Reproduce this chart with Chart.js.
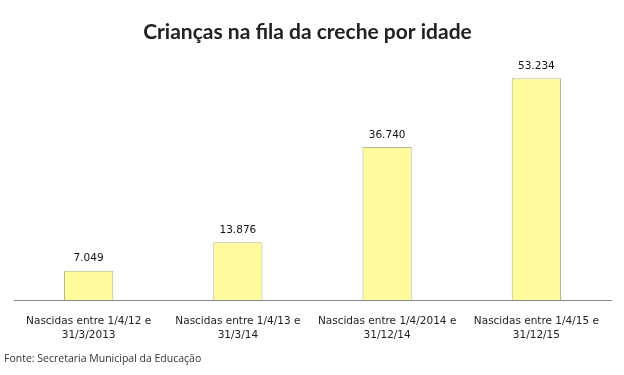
<!DOCTYPE html>
<html>
<head>
<meta charset="utf-8">
<script src="https://cdn.jsdelivr.net/npm/chart.js@4"></script>
<style>
  html, body { margin: 0; padding: 0; background: #fff; }
  #wrap { width: 624px; height: 375px; }
</style>
</head>
<body>
<div id="wrap"><canvas id="barChart" width="624" height="375"></canvas></div>
<script>
// dados do gráfico
const categorias = [
    ['Nascidas entre 1/4/12 e', '31/3/2013'],
    ['Nascidas entre 1/4/13 e', '31/3/14'],
    ['Nascidas entre 1/4/2014 e', '31/12/14'],
    ['Nascidas entre 1/4/15 e', '31/12/15']
];
const criancas = [7049, 13876, 36740, 53234];
const titulo = 'Crianças na fila da creche por idade';
const fonte = 'Fonte: Secretaria Municipal da Educação';

// rótulos acima das barras (formato 7.049)
const rotulosPlugin = {
    id: 'rotulos',
    afterDatasetsDraw(chart) {
        const ctx = chart.ctx;
        const meta = chart.getDatasetMeta(0);
        ctx.save();
        ctx.font = '10.5px "DejaVu Sans"';
        ctx.fillStyle = '#111';
        ctx.textAlign = 'center';
        ctx.textBaseline = 'middle';
        meta.data.forEach((bar, i) => {
            const txt = criancas[i].toLocaleString('pt-BR');
            ctx.fillText(txt, bar.x, bar.y - 12);
        });
        ctx.restore();
    }
};

const ctx = document.getElementById('barChart').getContext('2d');
const grafico = new Chart(ctx, {
    type: 'bar',
    data: {
        labels: categorias,
        datasets: [{
            data: criancas,
            backgroundColor: '#FFFC9E',
            borderColor: '#B9B58C',
            borderWidth: 1,
            categoryPercentage: 1,
            barPercentage: 0.33
        }]
    },
    options: {
        responsive: false,
        animation: false,
        layout: {
            padding: {left: 4, right: 13, top: 0, bottom: 7}
        },
        plugins: {
            legend: {display: false},
            tooltip: {enabled: false},
            title: {
                display: true,
                text: titulo,
                color: '#222',
                font: {family: 'Lato', size: 21, weight: 'bold'},
                padding: {top: 20, bottom: 5}
            },
            subtitle: {
                display: true,
                text: fonte,
                position: 'bottom',
                align: 'start',
                color: '#333',
                font: {family: 'Open Sans', size: 10.5},
                padding: {top: 0, bottom: 3}
            }
        },
        scales: {
            x: {
                grid: {display: false, drawTicks: false},
                border: {display: true, color: '#888'},
                ticks: {
                    color: '#222',
                    font: {family: 'DejaVu Sans', size: 10.5, lineHeight: 1.35},
                    padding: 14,
                    maxRotation: 0,
                    autoSkip: false
                },
                afterFit: scale => { scale.height -= 4; }
            },
            y: {
                min: 0,
                max: 60000,
                grid: {display: false},
                border: {display: false},
                ticks: {display: false},
                afterFit: scale => { scale.width = 10; }
            }
        }
    },
    plugins: [rotulosPlugin]
});
</script>
</body>
</html>
